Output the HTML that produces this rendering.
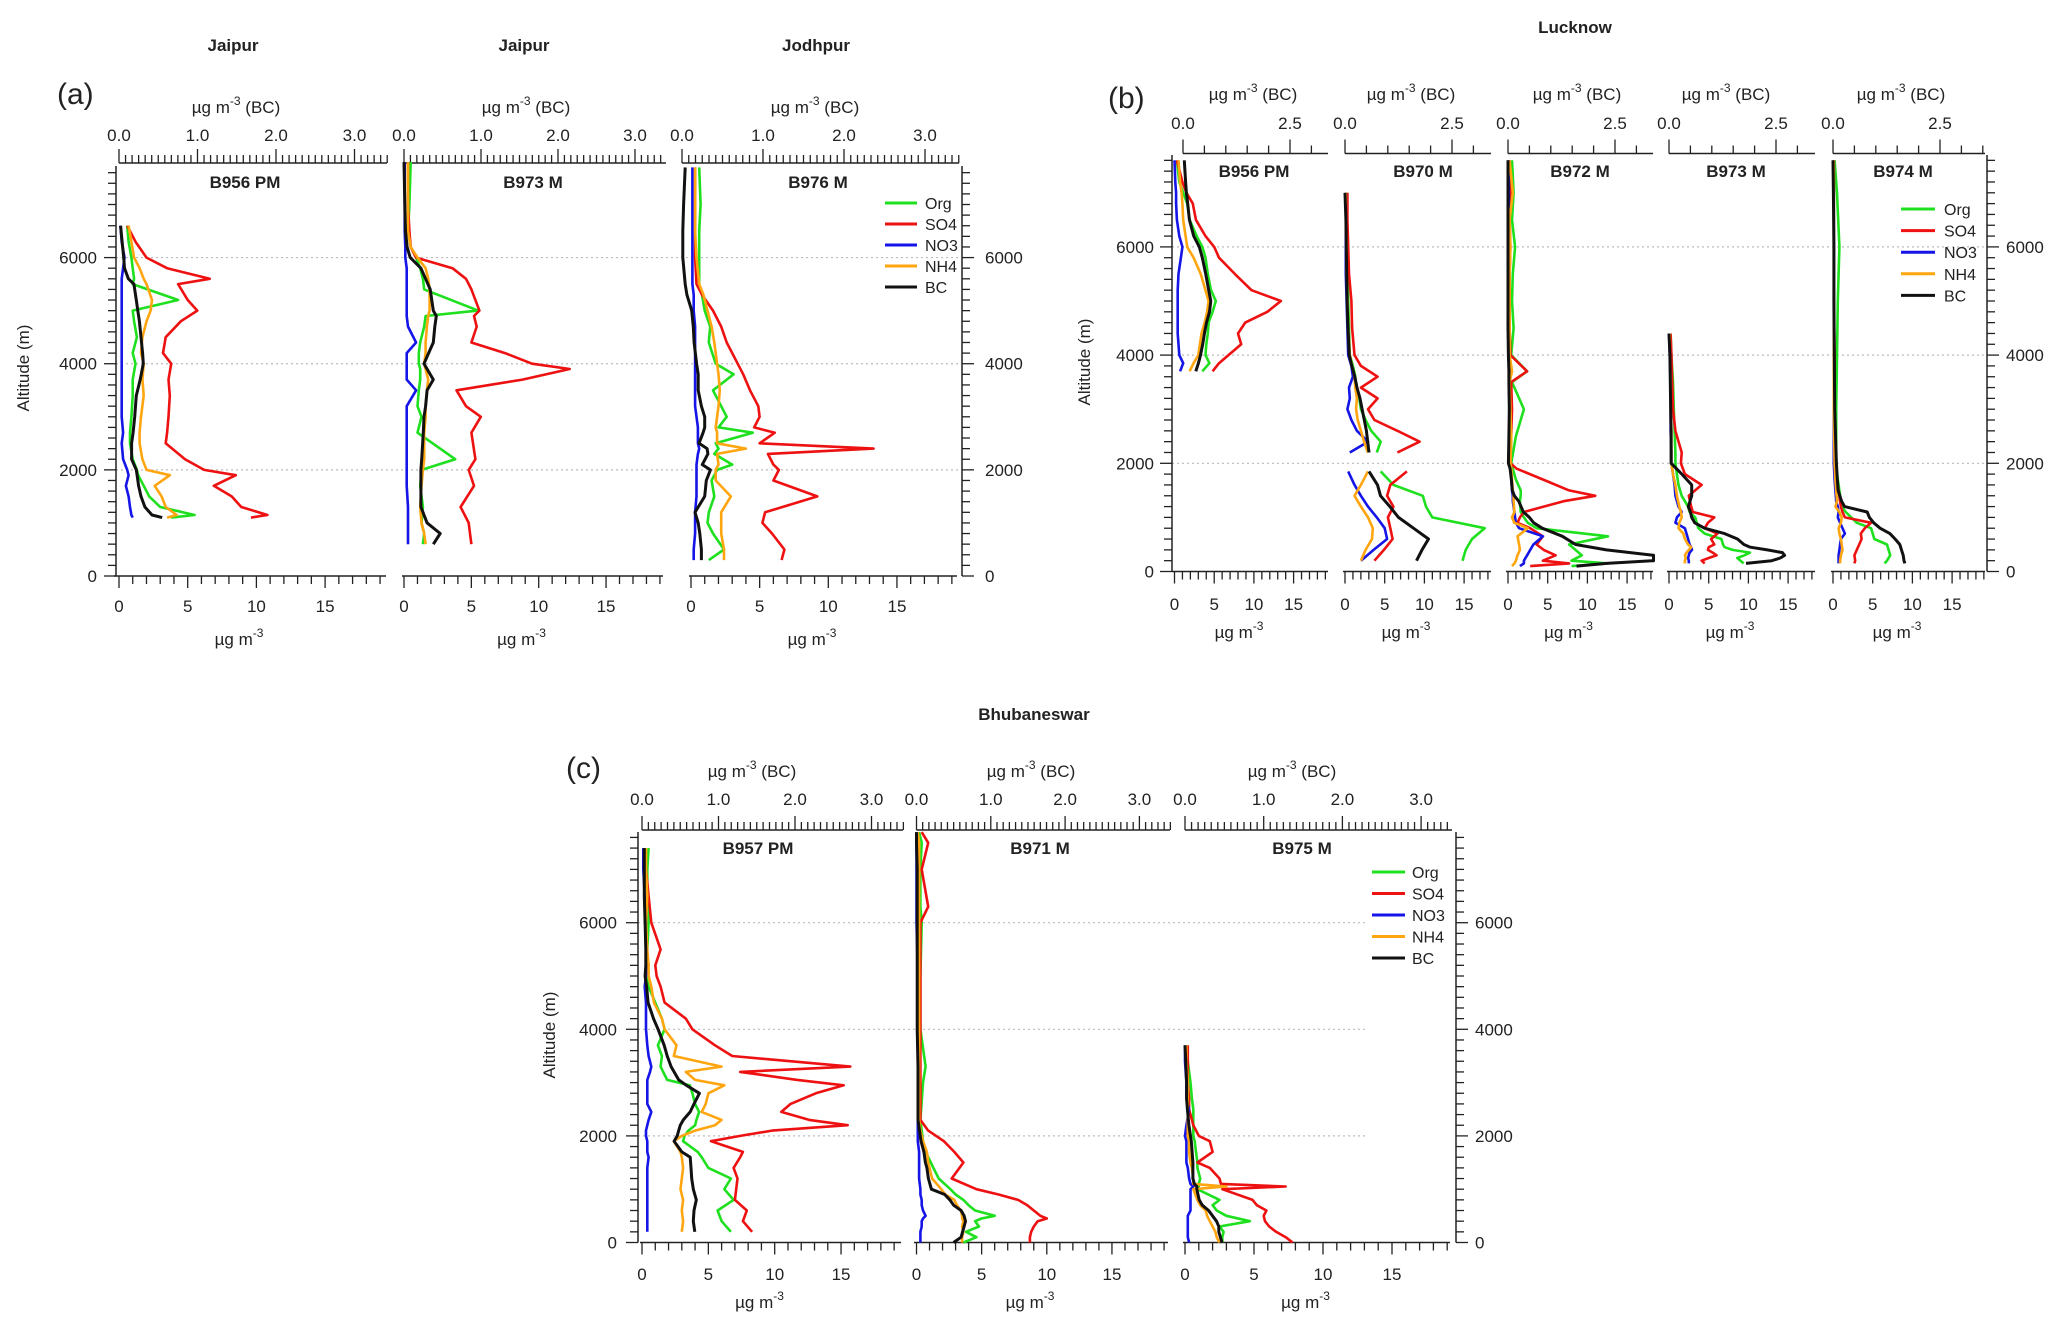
<!DOCTYPE html>
<html><head><meta charset="utf-8">
<style>
html,body{margin:0;padding:0;background:#fff;}
svg{display:block;}
text{font-family:"Liberation Sans",Arial,sans-serif;fill:#222;}
</style></head>
<body>
<svg id="chart" width="2067" height="1335" viewBox="0 0 2067 1335" xmlns="http://www.w3.org/2000/svg">
<rect width="2067" height="1335" fill="#fff"/>
</svg>
<script>
// ---- data: altitude (m) and concentrations (ug m-3; BC on top axis) ----
const a1_alt=[6600,6300,6000,5800,5600,5500,5200,5000,4800,4500,4200,4000,3700,3400,3000,2700,2500,2200,2000,1900,1700,1500,1300,1150,1100];
const a1_so4=[0.6,1.2,2.0,3.5,6.6,4.3,5.0,5.7,4.5,3.4,3.2,3.8,3.6,3.7,3.6,3.5,3.4,4.8,6.2,8.5,6.9,8.2,8.9,10.8,9.6];
const a1_org=[0.6,0.7,0.9,1.0,1.1,1.0,4.3,1.0,1.1,1.3,1.0,1.2,1.0,1.0,0.9,0.8,0.8,1.0,1.3,1.4,1.8,2.2,3.0,5.5,3.8];
const a1_nh4=[0.7,0.9,1.1,1.5,1.8,2.0,2.4,2.3,2.0,1.7,1.6,1.8,1.7,1.8,1.6,1.5,1.5,1.7,2.0,3.7,2.6,3.1,3.4,4.2,3.5];
const a1_no3=[0.1,0.2,0.4,0.3,0.2,0.2,0.2,0.2,0.2,0.2,0.2,0.2,0.2,0.2,0.2,0.3,0.2,0.3,0.6,0.7,0.5,0.7,0.8,0.9,1.0];
const a1_bc=[0.02,0.04,0.06,0.07,0.12,0.19,0.22,0.24,0.26,0.28,0.30,0.31,0.27,0.22,0.20,0.18,0.16,0.16,0.22,0.23,0.25,0.28,0.33,0.42,0.55];

const a2_alt=[7800,7000,6500,6200,6000,5800,5600,5400,5000,4900,4700,4400,4200,4000,3900,3700,3500,3200,3000,2700,2200,2000,1700,1300,1000,800,600];
const a2_so4=[0.3,0.3,0.4,0.5,0.9,3.6,4.6,5.0,5.6,5.2,5.4,5.0,7.5,9.5,12.3,8.8,3.9,4.6,5.7,5.0,5.3,4.8,5.2,4.2,4.8,4.9,5.0];
const a2_org=[0.5,0.4,0.3,0.5,0.9,1.2,1.4,1.5,5.5,1.6,1.5,1.2,1.1,1.1,1.2,1.2,1.1,1.0,1.3,1.0,3.8,1.3,1.2,1.4,1.3,1.5,1.4];
const a2_nh4=[0.3,0.3,0.3,0.5,1.0,1.6,1.8,1.9,1.9,1.8,1.7,1.6,1.6,1.5,1.6,1.8,1.7,1.6,1.6,1.5,1.5,1.4,1.3,1.2,1.3,1.5,1.6];
const a2_no3=[0.05,0.05,0.05,0.1,0.1,0.2,0.2,0.2,0.2,0.2,0.3,0.9,0.2,0.2,0.2,0.2,0.9,0.2,0.2,0.2,0.2,0.2,0.2,0.3,0.3,0.3,0.3];
const a2_bc=[0.0,0.01,0.02,0.04,0.08,0.22,0.28,0.34,0.38,0.42,0.40,0.38,0.32,0.26,0.30,0.38,0.30,0.28,0.26,0.25,0.23,0.22,0.22,0.22,0.30,0.47,0.38];

const a3_alt=[7700,7000,6500,6000,5500,5300,5000,4700,4400,4000,3800,3500,3200,3000,2800,2700,2500,2400,2300,2100,2000,1800,1500,1200,1000,800,500,300];
const a3_so4=[0.3,0.3,0.3,0.3,0.4,0.8,1.6,2.2,2.6,3.4,3.8,4.3,4.9,5.0,4.6,6.1,5.0,13.3,5.6,6.0,6.4,6.0,9.2,5.4,5.2,5.9,6.8,6.6];
const a3_org=[0.6,0.7,0.6,0.6,0.6,0.8,1.0,1.4,1.3,1.8,3.1,1.6,2.2,2.6,2.0,4.5,1.8,2.0,1.7,3.0,1.9,1.5,1.7,1.3,1.2,1.6,2.4,1.3];
const a3_nh4=[0.3,0.3,0.3,0.4,0.6,0.9,1.2,1.5,1.7,1.9,2.0,2.1,2.0,1.9,1.8,1.9,1.9,4.0,1.9,2.0,1.8,1.8,2.9,2.2,2.2,2.2,2.4,2.4];
const a3_no3=[0.1,0.1,0.1,0.1,0.1,0.2,0.2,0.3,0.3,0.3,0.3,0.3,0.3,0.4,0.5,0.5,0.5,0.6,0.5,0.4,0.4,0.4,0.4,0.3,0.3,0.3,0.2,0.2];
const a3_bc=[0.04,0.02,0.01,0.01,0.04,0.06,0.12,0.14,0.15,0.18,0.20,0.20,0.24,0.28,0.28,0.26,0.21,0.31,0.32,0.25,0.35,0.30,0.28,0.16,0.20,0.22,0.24,0.24];

const b1_alt=[7600,7200,7000,6800,6500,6200,6000,5800,5500,5200,5000,4800,4600,4400,4200,4000,3850,3700];
const b1_so4=[0.3,1.0,1.5,2.3,2.7,3.9,5.0,5.6,7.6,9.7,13.4,11.7,8.9,8.0,8.4,6.8,5.6,4.8];
const b1_org=[0.3,0.6,1.1,1.6,1.9,2.8,3.5,3.9,4.2,4.6,5.2,4.8,4.3,4.2,4.0,3.9,4.4,3.5];
const b1_nh4=[0.5,0.7,0.9,1.0,1.1,1.4,1.6,2.4,3.3,3.9,4.3,4.1,3.8,3.4,3.2,3.0,2.4,1.9];
const b1_no3=[0.0,0.1,0.2,0.2,0.3,0.6,1.0,0.8,0.5,0.4,0.4,0.4,0.4,0.4,0.5,0.6,1.1,0.7];
const b1_bc=[0.03,0.06,0.08,0.11,0.15,0.25,0.38,0.45,0.53,0.60,0.65,0.62,0.55,0.50,0.46,0.41,0.36,0.30];

const b2_alt=[7000,6500,6000,5500,5000,4500,4000,3800,3600,3400,3200,3000,2800,2600,2400,2200,2000,1850,1600,1400,1200,1000,800,600,400,200];
const b2_so4=[0.3,0.3,0.4,0.5,0.8,0.9,1.2,2.0,4.1,2.0,4.1,2.9,3.7,6.6,9.4,6.6,null,7.8,5.7,5.3,6.1,5.4,5.7,6.0,4.9,3.7];
const b2_org=[0.2,0.2,0.3,0.3,0.4,0.5,0.6,1.0,1.3,1.3,1.8,2.0,2.6,3.3,4.5,4.0,null,4.5,6.1,9.8,10.2,11.0,17.6,16.0,15.2,14.8];
const b2_nh4=[0.1,0.1,0.2,0.2,0.3,0.4,0.6,0.9,1.2,1.3,1.5,1.4,1.6,2.0,2.4,2.9,null,2.9,2.0,1.2,2.0,2.9,3.5,3.4,2.6,2.0];
const b2_no3=[0.1,0.1,0.1,0.1,0.2,0.3,0.4,0.8,1.0,0.5,0.6,0.3,0.8,1.5,2.9,0.6,null,0.4,1.2,2.0,2.9,4.0,5.0,5.3,3.6,2.0];
const b2_bc=[0.0,0.02,0.03,0.04,0.05,0.07,0.1,0.16,0.23,0.28,0.35,0.40,0.45,0.50,0.53,0.56,null,0.56,0.76,0.83,1.05,1.25,1.60,1.95,1.80,1.67];

const b3_alt=[7600,7000,6500,6000,5500,5000,4500,4000,3700,3500,3000,2500,2000,1900,1700,1500,1400,1300,1100,1000,900,800,650,500,400,300,200,150,100];
const b3_so4=[0.2,0.3,0.2,0.3,0.2,0.2,0.2,0.3,2.4,0.4,0.5,0.4,0.3,1.1,4.4,7.7,11.0,7.0,2.0,1.5,1.2,2.8,4.4,3.6,4.5,6.0,4.4,7.7,2.8];
const b3_org=[0.5,0.7,0.5,0.9,0.6,0.5,0.7,0.4,2.4,0.5,2.0,1.0,0.4,0.6,1.0,1.6,1.6,1.5,1.6,2.0,2.5,3.6,12.6,7.7,8.5,9.3,8.0,12.6,8.0];
const b3_nh4=[0.2,0.6,0.2,0.3,0.2,0.2,0.2,0.2,0.5,0.2,0.3,0.4,0.3,0.4,0.5,0.6,0.7,0.7,0.8,0.5,0.8,2.5,1.2,1.4,1.5,1.2,1.0,0.8,0.5];
const b3_no3=[0.1,0.1,0.1,0.1,0.1,0.1,0.1,0.1,0.3,0.1,0.2,0.2,0.2,0.3,0.4,0.5,0.6,0.6,0.8,0.9,1.0,1.4,4.4,3.2,2.8,2.4,2.0,2.0,1.5];
const b3_bc=[0.0,0.0,0.0,0.0,0.0,0.0,0.0,0.01,0.02,0.02,0.03,0.02,0.01,0.05,0.08,0.1,0.15,0.25,0.36,0.5,0.6,0.8,1.27,1.58,2.3,3.4,3.4,2.3,1.6];

const b4_alt=[4400,4000,3500,3000,2600,2200,2000,1800,1600,1400,1200,1100,1000,900,800,700,600,500,450,400,350,300,250,200,150];
const b4_so4=[0.2,0.3,0.4,0.5,0.8,1.6,1.5,2.0,4.1,2.5,2.8,3.0,5.7,4.9,4.5,6.1,5.3,5.7,5.0,4.9,5.5,6.0,5.0,4.1,4.5];
const b4_org=[0.2,0.3,0.5,0.6,0.7,0.8,0.8,1.0,1.2,1.6,2.4,2.6,3.3,3.5,3.7,4.5,6.6,6.8,7.0,8.0,10.2,9.5,8.6,9.0,9.4];
const b4_nh4=[0.1,0.1,0.2,0.2,0.3,0.3,0.3,0.5,0.8,1.0,1.3,1.5,1.6,1.3,1.2,1.8,2.0,2.4,2.8,2.5,2.2,2.0,2.1,2.0,2.0];
const b4_no3=[0.0,0.1,0.2,0.2,0.2,0.3,0.3,0.5,0.7,0.8,1.2,1.6,1.0,0.8,2.0,2.2,2.4,2.6,2.8,2.9,2.6,2.5,2.4,2.5,2.5];
const b4_bc=[0.0,0.02,0.03,0.04,0.05,0.05,0.05,0.3,0.53,0.53,0.45,0.50,0.53,0.6,0.83,1.3,1.6,1.75,1.9,2.3,2.65,2.7,2.6,2.4,1.8];

const b5_alt=[7600,7000,6000,5000,4000,3000,2000,1700,1500,1300,1200,1100,1000,900,800,700,600,500,400,300,200,150];
const b5_so4=[0.1,0.1,0.1,0.1,0.2,0.2,0.3,0.5,0.7,0.9,1.0,1.2,1.5,4.8,4.0,3.5,3.6,3.3,3.0,2.7,2.8,2.7];
const b5_org=[0.2,0.5,0.8,0.6,0.5,0.4,0.4,0.6,0.8,1.0,1.1,1.6,2.3,3.0,4.8,5.0,5.2,6.8,7.0,7.2,6.8,6.5];
const b5_nh4=[0.1,0.1,0.1,0.1,0.1,0.1,0.2,0.3,0.4,0.5,0.3,0.8,1.1,1.0,0.7,0.8,1.0,1.1,1.2,1.0,0.9,0.9];
const b5_no3=[0.1,0.1,0.1,0.1,0.1,0.1,0.1,0.2,0.3,0.4,0.6,0.7,0.6,0.9,1.2,1.5,1.0,0.9,0.8,0.7,0.7,0.7];
const b5_bc=[0.0,0.01,0.02,0.02,0.03,0.04,0.08,0.1,0.12,0.2,0.27,0.8,0.85,0.95,1.1,1.33,1.45,1.56,1.6,1.64,1.66,1.68];

const c1_alt=[7400,7000,6500,6000,5500,5200,5000,4800,4500,4200,4000,3700,3500,3300,3200,3050,2950,2800,2600,2450,2300,2200,2100,2000,1900,1700,1600,1400,1200,1000,800,600,400,200];
const c1_so4=[0.2,0.3,0.5,0.7,1.4,1.0,1.1,1.4,1.7,3.3,3.8,5.5,6.8,15.7,7.4,11.7,15.2,13.1,11.2,10.5,12.6,15.5,9.8,7.4,5.2,7.6,7.4,6.9,7.2,7.1,7.0,7.9,7.6,8.3];
const c1_org=[0.5,0.4,0.4,0.5,0.4,0.3,0.3,0.5,1.0,1.5,1.7,1.2,1.5,1.4,1.6,1.9,3.6,3.8,4.0,4.3,4.1,4.0,3.5,3.2,3.1,4.2,4.5,5.0,6.7,6.2,6.9,5.7,6.0,6.7];
const c1_nh4=[0.3,0.3,0.4,0.3,0.4,0.5,0.5,0.7,0.9,1.5,1.7,2.6,2.4,6.0,3.3,4.0,6.2,5.0,4.8,4.5,6.0,5.5,4.0,3.0,2.4,2.9,3.0,3.1,3.0,2.9,3.1,3.0,3.1,3.0];
const c1_no3=[0.1,0.1,0.2,0.3,0.3,0.5,0.3,0.2,0.3,0.3,0.3,0.4,0.5,0.7,0.6,0.4,0.4,0.4,0.4,0.7,0.5,0.4,0.3,0.3,0.4,0.4,0.5,0.4,0.4,0.4,0.4,0.4,0.4,0.4];
const c1_bc=[0.03,0.03,0.03,0.04,0.05,0.05,0.04,0.06,0.08,0.15,0.21,0.29,0.33,0.38,0.42,0.48,0.58,0.75,0.68,0.63,0.54,0.50,0.48,0.46,0.42,0.52,0.63,0.64,0.65,0.67,0.71,0.68,0.67,0.69];

const c2_alt=[7700,7500,7000,6300,6000,5000,4000,3300,3000,2300,2100,1900,1700,1500,1400,1200,1000,900,800,700,600,500,450,400,300,200,100,0];
const c2_so4=[0.4,0.9,0.4,0.9,0.3,0.3,0.3,0.3,0.3,0.3,0.9,2.1,2.9,3.6,3.3,2.7,4.6,6.3,7.8,8.5,9.0,9.5,10.0,9.3,9.0,8.8,8.7,8.7];
const c2_org=[0.2,0.4,0.3,0.3,0.4,0.3,0.3,0.7,0.5,0.3,0.4,0.5,0.7,1.1,1.3,1.7,2.6,3.0,3.6,4.0,4.5,6.0,5.0,4.5,4.8,3.8,4.6,3.6];
const c2_nh4=[0.1,0.2,0.2,0.2,0.2,0.2,0.2,0.2,0.2,0.2,0.3,0.5,0.8,0.9,1.0,1.2,1.9,2.2,2.9,3.1,3.4,3.5,3.5,3.6,3.5,3.6,3.5,3.5];
const c2_no3=[0.0,0.0,0.0,0.0,0.0,0.1,0.1,0.2,0.1,0.1,0.1,0.1,0.2,0.2,0.2,0.2,0.3,0.3,0.4,0.4,0.5,0.7,0.5,0.4,0.4,0.3,0.3,0.3];
const c2_bc=[0.0,0.0,0.01,0.01,0.01,0.01,0.01,0.02,0.02,0.02,0.04,0.06,0.1,0.12,0.14,0.16,0.2,0.38,0.45,0.5,0.6,0.64,0.65,0.66,0.64,0.62,0.6,0.5];

const c3_alt=[3700,3400,3000,2700,2500,2200,2000,1900,1700,1500,1400,1200,1100,1050,1000,800,700,600,500,400,300,200,100,0];
const c3_so4=[0.2,0.2,0.2,0.3,0.3,0.6,1.0,1.8,2.0,0.9,1.8,2.5,2.6,7.3,2.7,4.9,5.2,5.9,5.7,5.8,6.1,6.6,7.3,7.8];
const c3_org=[0.1,0.2,0.4,0.5,0.6,0.6,0.6,0.7,0.8,0.9,0.9,1.1,1.0,1.0,0.9,2.5,2.0,2.3,3.0,4.7,2.5,2.8,2.7,2.7];
const c3_nh4=[0.1,0.1,0.2,0.2,0.2,0.2,0.2,0.3,0.3,0.4,0.5,0.6,0.6,3.0,0.6,0.9,1.1,1.5,1.6,1.8,2.0,2.2,2.3,2.5];
const c3_no3=[0.0,0.0,0.1,0.1,0.3,0.1,0.0,0.1,0.1,0.1,0.2,0.3,0.4,0.6,0.4,0.4,0.4,0.4,0.2,0.2,0.2,0.2,0.2,0.3];
const c3_bc=[0.0,0.01,0.02,0.02,0.03,0.05,0.07,0.08,0.09,0.1,0.1,0.1,0.12,0.15,0.15,0.18,0.22,0.3,0.35,0.4,0.43,0.43,0.45,0.47];

const bottomTicks=[0,5,10,15];
const altTicks=[0,2000,4000,6000];
const species=['org','so4','no3','nh4','bc'];
const speciesLabels=['Org','SO4','NO3','NH4','BC'];
const colors={org:'#1ee01e',so4:'#ee1111',no3:'#1515e8',nh4:'#ffa510',bc:'#111111'};

const svg=document.getElementById('chart');
const NS='http://www.w3.org/2000/svg';
function mk(tag,attrs,parent){const e=document.createElementNS(NS,tag);for(const k in attrs)e.setAttribute(k,attrs[k]);(parent||svg).appendChild(e);return e;}
function txt(s,x,y,size,anchor,parent,extra){const e=mk('text',Object.assign({x:x,y:y,'font-size':size,'text-anchor':anchor||'middle'},extra||{}),parent);e.textContent=s;return e;}

const groups=[
 {id:'a',y0:576,ppm:0.05307,top:166,topLine:163,leftAx:116,rightAx:962,gridR:960,leftLblX:97,rightLblX:985,topLblY:141,unitY:113,botLblY:612,botUnitY:645,altX:29,altY:368,tag:'(a)',tagX:57,tagY:104,
  title:[['Jaipur',233,51],['Jaipur',524,51],['Jodhpur',816,51]],bcTicks:[0,1,2,3],bcMinor:1/12,bcFmt:1,legend:{x1:885,x2:917,tx:925,y:203,dy:21}},
 {id:'b',y0:571.5,ppm:0.0541,top:155,topLine:153.5,leftAx:1172,rightAx:1987,gridR:1985,leftLblX:1154,rightLblX:2006,topLblY:129,unitY:100,botLblY:610,botUnitY:638,altX:1090,altY:362,tag:'(b)',tagX:1108,tagY:108,
  title:[['Lucknow',1575,33]],bcTicks:[0,2.5],bcMinor:0.5,bcFmt:1,legend:{x1:1901,x2:1935,tx:1944,y:209,dy:21.6}},
 {id:'c',y0:1242.5,ppm:0.0533,top:832,topLine:830,leftAx:638,rightAx:1456,gridR:1365,leftLblX:617,rightLblX:1475,topLblY:805,unitY:777,botLblY:1280,botUnitY:1308,altX:555,altY:1035,tag:'(c)',tagX:566,tagY:778,
  title:[['Bhubaneswar',1034,720]],bcTicks:[0,1,2,3],bcMinor:1/12,bcFmt:1,legend:{x1:1372,x2:1405,tx:1412,y:872,dy:21.5}}
];

const panels=[
 {g:0,name:'a1',label:'B956 PM',lx:245,ux:236,x0:119,ppu:13.74,bx0:119,ppb:78.5,axL:116,axR:386,tR:387},
 {g:0,name:'a2',label:'B973 M',lx:533,ux:526,x0:404,ppu:13.47,bx0:404,ppb:77,axL:404,axR:663,tR:666},
 {g:0,name:'a3',label:'B976 M',lx:818,ux:815,x0:691,ppu:13.73,bx0:682,ppb:81,axL:691,axR:957,tR:959,legend:true},
 {g:1,name:'b1',label:'B956 PM',lx:1254,ux:1253,x0:1174.5,ppu:7.94,bx0:1183,ppb:42.8,axL:1174,axR:1328,tR:1328},
 {g:1,name:'b2',label:'B970 M',lx:1423,ux:1411,x0:1345,ppu:7.94,bx0:1345,ppb:42.8,axL:1345,axR:1491,tR:1491},
 {g:1,name:'b3',label:'B972 M',lx:1580,ux:1577,x0:1508,ppu:7.94,bx0:1508,ppb:42.8,axL:1508,axR:1653,tR:1653},
 {g:1,name:'b4',label:'B973 M',lx:1736,ux:1726,x0:1669,ppu:7.94,bx0:1669,ppb:42.8,axL:1669,axR:1815,tR:1815},
 {g:1,name:'b5',label:'B974 M',lx:1903,ux:1901,x0:1833,ppu:7.94,bx0:1833,ppb:42.8,axL:1833,axR:1985,tR:1985,legend:true},
 {g:2,name:'c1',label:'B957 PM',lx:758,ux:752,x0:642,ppu:13.27,bx0:642,ppb:76.5,axL:642,axR:901,tR:903},
 {g:2,name:'c2',label:'B971 M',lx:1040,ux:1031,x0:916.5,ppu:13.03,bx0:916.5,ppb:74.3,axL:916,axR:1168,tR:1170},
 {g:2,name:'c3',label:'B975 M',lx:1302,ux:1292,x0:1185,ppu:13.8,bx0:1185,ppb:78.7,axL:1185,axR:1450,tR:1452,legend:true}
];
const dataMap={a1:[a1_alt,a1_org,a1_so4,a1_no3,a1_nh4,a1_bc],a2:[a2_alt,a2_org,a2_so4,a2_no3,a2_nh4,a2_bc],a3:[a3_alt,a3_org,a3_so4,a3_no3,a3_nh4,a3_bc],
 b1:[b1_alt,b1_org,b1_so4,b1_no3,b1_nh4,b1_bc],b2:[b2_alt,b2_org,b2_so4,b2_no3,b2_nh4,b2_bc],b3:[b3_alt,b3_org,b3_so4,b3_no3,b3_nh4,b3_bc],
 b4:[b4_alt,b4_org,b4_so4,b4_no3,b4_nh4,b4_bc],b5:[b5_alt,b5_org,b5_so4,b5_no3,b5_nh4,b5_bc],
 c1:[c1_alt,c1_org,c1_so4,c1_no3,c1_nh4,c1_bc],c2:[c2_alt,c2_org,c2_so4,c2_no3,c2_nh4,c2_bc],c3:[c3_alt,c3_org,c3_so4,c3_no3,c3_nh4,c3_bc]};

// groups: frames, titles, y axes, gridlines
groups.forEach(G=>{
  const gg=mk('g',{});
  
  
  const yOf=a=>G.y0-a*G.ppm;
  G.title.forEach(t=>{const e=txt(t[0],t[1],t[2],17,'middle',gg,{'font-weight':'bold'});
    
    });
  const tg=txt(G.tag,G.tagX,G.tagY,30,'start',gg,{'font-family':'"Liberation Serif",serif'});
  
  
  // gridlines
  altTicks.forEach(a=>{if(a===0)return;
    const l=mk('line',{x1:G.leftAx,x2:G.gridR,y1:yOf(a),y2:yOf(a),stroke:'#bbb','stroke-width':1.2,'stroke-dasharray':'2,3'},gg);
    
    });
  // left and right y axes
  [G.leftAx,G.rightAx].forEach((ax,i)=>{
    const al=mk('line',{x1:ax,x2:ax,y1:G.top,y2:G.y0,stroke:'#222','stroke-width':1.5},gg);
    
    
    const dir=i?1:-1;
    for(let a=0;yOf(a)>=G.top;a+=200){
      const major=a%2000===0;
      mk('line',{x1:ax,x2:ax+dir*(major?12:8),y1:yOf(a),y2:yOf(a),stroke:'#222','stroke-width':1.3},gg);
    }
    altTicks.forEach(a=>{
      const e=txt(String(a),i?G.rightLblX:G.leftLblX,yOf(a)+6,17,i?'start':'end',gg,{fill:'#333'});
      
      
    });
  });
  const at=txt('Altitude (m)',G.altX,G.altY,17,'middle',gg,{transform:'rotate(-90 '+G.altX+' '+G.altY+')',fill:'#333'});
  
  
});

panels.forEach(P=>{
  const G=groups[P.g];
  const yOf=a=>G.y0-a*G.ppm;
  const xOf=v=>P.x0+v*P.ppu;
  const bxOf=v=>P.bx0+v*P.ppb;
  const pg=mk('g',{});
  
  
  // bottom axis
  const bl=mk('line',{x1:P.axL-2,x2:P.axR,y1:G.y0,y2:G.y0,stroke:'#222','stroke-width':1.5},pg);
  
  
  for(let v=0;xOf(v)<=P.axR+0.5;v+=1){
    mk('line',{x1:xOf(v),x2:xOf(v),y1:G.y0,y2:G.y0+(v%5===0?12:8),stroke:'#222','stroke-width':1.3},pg);
  }
  bottomTicks.forEach(v=>{const e=txt(String(v),xOf(v),G.botLblY,17,'middle',pg,{fill:'#333'});
    
    });
  const bu=mk('text',{x:(P.axL+P.axR)/2-12,y:G.botUnitY,'font-size':17,'text-anchor':'middle',fill:'#333'},pg);
  bu.innerHTML='µg m<tspan dy="-8" font-size="12">-3</tspan>';
  
  
  // top BC axis
  const tl=mk('line',{x1:P.bx0,x2:P.tR,y1:G.topLine,y2:G.topLine,stroke:'#222','stroke-width':1.5},pg);
  
  
  for(let k=0;bxOf(k*G.bcMinor)<=P.tR+0.5;k++){
    const v=k*G.bcMinor;const major=Math.abs(v-Math.round(v/ (G.bcTicks[1]-G.bcTicks[0]))*(G.bcTicks[1]-G.bcTicks[0]))<1e-6;
    mk('line',{x1:bxOf(v),x2:bxOf(v),y1:G.topLine,y2:G.topLine-(major?14:8),stroke:'#222','stroke-width':1.3},pg);
  }
  G.bcTicks.forEach(v=>{const e=txt(v.toFixed(1),bxOf(v),G.topLblY,17,'middle',pg,{fill:'#333'});
    
    });
  const tu=mk('text',{x:P.ux,y:G.unitY,'font-size':17,'text-anchor':'middle',fill:'#333'},pg);
  tu.innerHTML='µg m<tspan dy="-8" font-size="12">-3</tspan><tspan dy="8"> (BC)</tspan>';
  
  
  const pl=txt(P.label,P.lx,G.top+22,17,'middle',pg,{'font-weight':'bold'});
  
  
  // series
  const D=dataMap[P.name];const alt=D[0];
  species.forEach((s,si)=>{
    const vals=D[si+1];let d='';let pen=false;
    for(let i=0;i<alt.length;i++){
      if(vals[i]===null){pen=false;continue;}
      const x=(s==='bc'?bxOf(vals[i]):xOf(vals[i])).toFixed(1),y=yOf(alt[i]).toFixed(1);
      d+=(pen?'L':'M')+x+' '+y+' ';pen=true;
    }
    const p=mk('path',{d:d,fill:'none',stroke:colors[s],'stroke-width':s==='bc'?3:2.6,'stroke-linejoin':'round'},pg);
    
    
  });
  if(P.legend){
    const L=G.legend;
    const lg=mk('g',{},pg);
    
    
    species.forEach((s,i)=>{
      const y=L.y+i*L.dy;
      const ln=mk('line',{x1:L.x1,x2:L.x2,y1:y,y2:y,stroke:colors[s],'stroke-width':3},lg);
      
      
      const t=txt(speciesLabels[i],L.tx,y+6,16,'start',lg,{fill:'#333'});
      
      
    });
  }
});
</script>
</body></html>
